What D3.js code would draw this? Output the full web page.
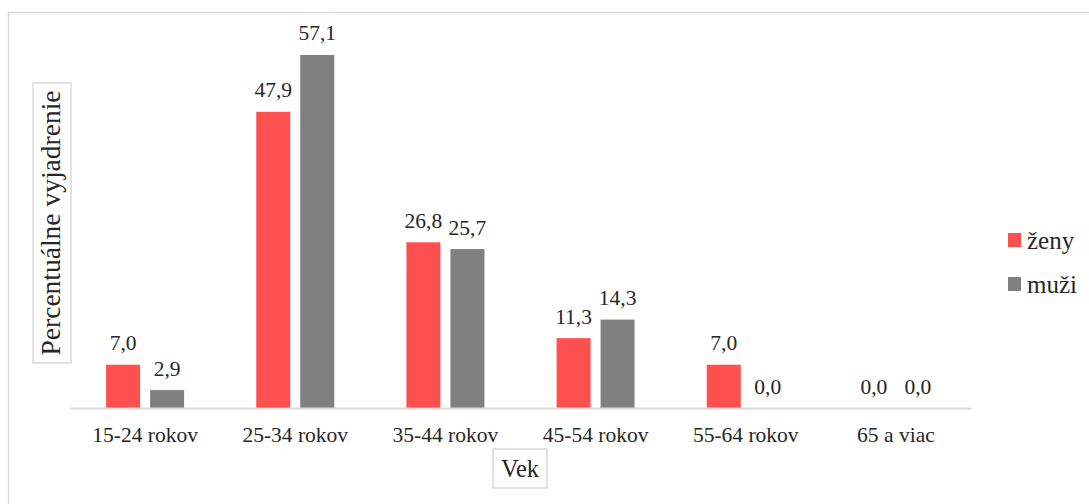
<!DOCTYPE html>
<html>
<head>
<meta charset="utf-8">
<script src="https://cdn.jsdelivr.net/npm/d3@7"></script>
<style>
  html, body { margin: 0; padding: 0; background: #fff; }
  svg { display: block; }
  text { font-family: "Liberation Serif", "DejaVu Serif", serif; fill: #262626; }
</style>
</head>
<body>
<svg id="chart" width="1089" height="504"></svg>
<script>
// Age groups and the share of each gender (percent)
const categories = ["15-24 rokov", "25-34 rokov", "35-44 rokov", "45-54 rokov", "55-64 rokov", "65 a viac"];
const seriesNames = ["ženy", "muži"];
const zeny = [7.0, 47.9, 26.8, 11.3, 7.0, 0.0];
const muzi = [2.9, 57.1, 25.7, 14.3, 0.0, 0.0];
const colors = ["#FF5050", "#808080"];
const yTitle = "Percentuálne vyjadrenie";
const xTitle = "Vek";

const svg = d3.select("#chart");
const W = 1089, H = 504;
const FONT = "'Liberation Serif', 'DejaVu Serif', serif";

// outer chart frame
svg.append("rect")
  .attr("x", 8.5).attr("y", 12.5)
  .attr("width", W - 4).attr("height", H)
  .attr("fill", "#fff").attr("stroke", "#d9d9d9").attr("stroke-width", 1.5);

const plot = { left: 70, right: 971, top: 37, bottom: 408 };

const x0 = d3.scaleBand().domain(categories).range([plot.left, plot.right]);
const x1 = d3.scaleBand().domain(seriesNames).range([0, x0.bandwidth()])
  .paddingInner(0.227).paddingOuter(0.82);
const y = d3.scaleLinear().domain([0, 60]).range([plot.bottom, plot.top]);

const rows = categories.map((c, i) => ({ cat: c, vals: [zeny[i], muzi[i]] }));
const fmt = v => v.toFixed(1).replace(".", ",");

const groups = svg.append("g").selectAll("g").data(rows).join("g")
  .attr("transform", d => `translate(${x0(d.cat)},0)`);

groups.selectAll("rect").data(d => d.vals.map((v, j) => ({ v, s: seriesNames[j], j })))
  .join("rect")
  .attr("x", d => x1(d.s))
  .attr("width", x1.bandwidth())
  .attr("y", d => y(d.v))
  .attr("height", d => y(0) - y(d.v))
  .attr("fill", d => colors[d.j]);

groups.selectAll("text.lbl").data(d => d.vals.map((v, j) => ({ v, s: seriesNames[j] })))
  .join("text").attr("class", "lbl")
  .attr("x", d => x1(d.s) + x1.bandwidth() / 2)
  .attr("y", d => y(d.v) - 14.5)
  .attr("text-anchor", "middle")
  .attr("font-size", 21.5)
  .text(d => fmt(d.v));

// category axis
const xAxis = svg.append("g").attr("transform", `translate(0,${plot.bottom})`)
  .call(d3.axisBottom(x0).tickSize(0).tickPadding(0));
xAxis.select(".domain").attr("stroke", "#d9d9d9").attr("stroke-width", 2);
xAxis.selectAll(".tick text")
  .attr("font-family", FONT)
  .attr("font-size", 21.5).attr("fill", "#262626")
  .attr("dy", 0).attr("y", 34);

// axis titles in boxed frames
const yT = svg.append("g").attr("transform", "translate(52,223) rotate(-90)");
yT.append("rect").attr("x", -140).attr("y", -19).attr("width", 280).attr("height", 38)
  .attr("fill", "#fff").attr("stroke", "#d9d9d9").attr("stroke-width", 1.5);
yT.append("text").attr("text-anchor", "middle").attr("y", 8).attr("font-size", 27.5).text(yTitle);

const xT = svg.append("g").attr("transform", "translate(520,468)");
xT.append("rect").attr("x", -27).attr("y", -19).attr("width", 54).attr("height", 39)
  .attr("fill", "#fff").attr("stroke", "#d9d9d9").attr("stroke-width", 1.5);
xT.append("text").attr("text-anchor", "middle").attr("y", 9).attr("font-size", 24.5).text(xTitle);

// legend
const leg = svg.append("g").attr("transform", "translate(1008,233)");
const li = leg.selectAll("g").data(seriesNames).join("g")
  .attr("transform", (d, i) => `translate(0,${i * 44})`);
li.append("rect").attr("width", 13).attr("height", 14).attr("fill", (d, i) => colors[i]);
li.append("text").attr("x", 19).attr("y", 16).attr("font-size", 25).text(d => d);
</script>
</body>
</html>
